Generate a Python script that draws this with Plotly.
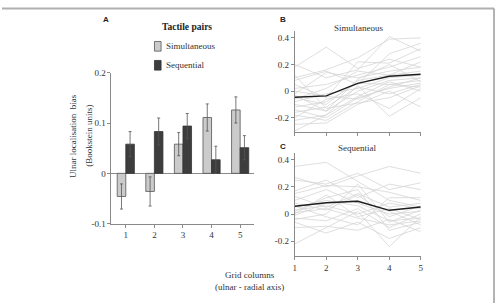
import plotly.graph_objects as go

W, H = 498, 308

# ---------------- data ----------------
columns = [1, 2, 3, 4, 5]
series_names = ["Simultaneous", "Sequential"]
sim_mean = [-0.046, -0.036, 0.058, 0.111, 0.126]
sim_err = [0.025, 0.029, 0.023, 0.027, 0.026]
seq_mean = [0.058, 0.083, 0.094, 0.027, 0.051]
seq_err = [0.025, 0.027, 0.025, 0.027, 0.024]

sim_subjects = [
    [0.20, 0.10, 0.16, 0.41, 0.30],
    [0.18, 0.33, 0.17, 0.24, 0.18],
    [0.10, 0.16, 0.25, 0.39, 0.40],
    [0.08, 0.15, 0.05, 0.28, 0.36],
    [0.05, -0.05, 0.22, 0.21, 0.32],
    [0.02, 0.05, 0.12, 0.18, 0.26],
    [-0.02, 0.14, 0.10, 0.15, 0.18],
    [-0.05, -0.10, 0.08, 0.12, 0.15],
    [-0.08, -0.02, 0.02, 0.10, 0.12],
    [-0.10, -0.15, 0.00, 0.08, 0.10],
    [-0.12, -0.08, 0.06, 0.05, 0.08],
    [-0.14, -0.20, -0.05, 0.02, 0.06],
    [-0.16, -0.12, 0.03, -0.02, 0.05],
    [-0.18, -0.22, -0.08, 0.05, 0.03],
    [-0.20, -0.06, -0.02, -0.13, 0.02],
    [-0.22, -0.18, 0.04, -0.19, -0.05],
    [-0.25, -0.24, -0.10, 0.00, -0.12],
    [-0.30, -0.18, -0.04, 0.07, 0.00],
    [0.00, -0.04, -0.06, 0.03, 0.10],
    [-0.06, 0.02, 0.15, 0.12, 0.22],
    [0.12, -0.13, -0.09, -0.05, 0.04],
    [-0.03, -0.15, 0.09, 0.20, 0.07],
]
seq_subjects = [
    [0.35, 0.38, 0.24, 0.10, 0.05],
    [0.27, 0.20, 0.28, 0.35, 0.30],
    [0.25, 0.22, 0.30, 0.18, 0.23],
    [0.17, 0.25, 0.12, 0.22, 0.18],
    [0.15, 0.21, 0.20, 0.16, 0.10],
    [0.13, 0.05, 0.15, 0.05, 0.08],
    [0.10, 0.18, 0.08, 0.00, 0.02],
    [0.08, 0.03, 0.14, -0.02, 0.06],
    [0.05, 0.10, 0.06, -0.05, -0.03],
    [0.03, 0.06, 0.00, 0.08, 0.04],
    [0.01, 0.04, -0.03, -0.08, -0.05],
    [-0.01, 0.08, 0.10, 0.02, -0.08],
    [-0.03, -0.05, 0.04, -0.10, 0.00],
    [-0.06, -0.14, -0.06, -0.18, -0.10],
    [-0.10, -0.09, -0.12, -0.04, -0.13],
    [-0.22, -0.10, 0.02, -0.24, -0.02],
    [0.02, 0.12, 0.18, -0.12, -0.06],
    [0.06, -0.02, -0.08, 0.12, 0.12],
    [-0.04, 0.00, 0.22, -0.06, 0.03],
    [0.00, 0.14, -0.02, 0.04, -0.04],
]
a_yticks = [-0.1, 0, 0.1, 0.2]
a_yticklabels = ["-0.1", "0", "0.1", "0.2"]
bc_yticks = [-0.2, 0, 0.2, 0.4]
bc_yticklabels = ["-0.2", "0", "0.2", "0.4"]

# ---------------- styling ----------------
SERIF = "Liberation Serif"
SANS = "Liberation Sans"
AX = "#8a8a8a"
TXT = "#333333"
SIM_FILL = "#cbcbcb"
SEQ_FILL = "#3d3d3d"


def px_x(px):
    return px / W


def px_y(py):
    return 1 - py / H


fig = go.Figure()

# Panel A bars
fig.add_trace(go.Bar(
    x=columns, y=sim_mean, name=series_names[0],
    marker=dict(color=SIM_FILL, line=dict(color="#555555", width=0.8)),
    error_y=dict(type="data", array=sim_err, color="#555555", thickness=0.8, width=1.5),
    xaxis="x", yaxis="y", showlegend=False,
))
fig.add_trace(go.Bar(
    x=columns, y=seq_mean, name=series_names[1],
    marker=dict(color=SEQ_FILL, line=dict(color="#333333", width=0.8)),
    error_y=dict(type="data", array=seq_err, color="#555555", thickness=0.8, width=1.5),
    xaxis="x", yaxis="y", showlegend=False,
))

# Panel B lines
for s in sim_subjects:
    fig.add_trace(go.Scatter(x=columns, y=s, mode="lines",
                             line=dict(color="#d6d6d6", width=0.8),
                             xaxis="x2", yaxis="y2", showlegend=False, hoverinfo="skip"))
fig.add_trace(go.Scatter(x=columns, y=sim_mean, mode="lines",
                         line=dict(color="#1e1e1e", width=1.5),
                         xaxis="x2", yaxis="y2", showlegend=False))

# Panel C lines
for s in seq_subjects:
    fig.add_trace(go.Scatter(x=columns, y=s, mode="lines",
                             line=dict(color="#d6d6d6", width=0.8),
                             xaxis="x3", yaxis="y3", showlegend=False, hoverinfo="skip"))
fig.add_trace(go.Scatter(x=columns, y=seq_mean, mode="lines",
                         line=dict(color="#1e1e1e", width=1.5),
                         xaxis="x3", yaxis="y3", showlegend=False))

tickfont = dict(family=SERIF, size=9, color=TXT)
common_axis = dict(showline=True, linecolor=AX, linewidth=1, showgrid=False,
                   ticks="outside", ticklen=3, tickcolor=AX, tickwidth=1,
                   tickfont=tickfont, fixedrange=True)

fig.update_layout(
    width=W, height=H,
    margin=dict(l=0, r=0, t=0, b=0),
    paper_bgcolor="white", plot_bgcolor="white",
    barmode="group", bargap=0.4, bargroupgap=0,
    xaxis=dict(domain=[px_x(110.6), px_x(255)], range=[0.5, 5.5],
               tickvals=columns, ticktext=[str(c) for c in columns],
               zeroline=False, anchor="y", **common_axis),
    yaxis=dict(domain=[px_y(226), px_y(70)], range=[-0.1, 0.2],
               tickvals=a_yticks, ticktext=a_yticklabels,
               zeroline=True, zerolinecolor=AX, zerolinewidth=1, anchor="x", **common_axis),
    xaxis2=dict(domain=[px_x(295.7), px_x(423)], range=[1, 5],
                tickvals=columns, showticklabels=False,
                zeroline=False, anchor="y2", **common_axis),
    yaxis2=dict(domain=[px_y(131.6), px_y(27.1)], range=[-0.31, 0.45],
                tickvals=bc_yticks, ticktext=bc_yticklabels,
                zeroline=False, anchor="x2", **common_axis),
    xaxis3=dict(domain=[px_x(295.7), px_x(423)], range=[1, 5],
                tickvals=columns, ticktext=[str(c) for c in columns],
                zeroline=False, anchor="y3", **common_axis),
    yaxis3=dict(domain=[px_y(259.6), px_y(152.8)], range=[-0.31, 0.45],
                tickvals=bc_yticks, ticktext=bc_yticklabels,
                zeroline=False, anchor="x3", **common_axis),
)

ann = []


def add_text(text, x, y, size=9, family=SERIF, bold=False, xanchor="center", angle=0, color=TXT):
    t = f"<b>{text}</b>" if bold else text
    ann.append(dict(text=t, x=px_x(x), y=px_y(y), xref="paper", yref="paper",
                    showarrow=False, xanchor=xanchor, yanchor="middle", textangle=angle,
                    font=dict(family=family, size=size, color=color)))


add_text("A", 105, 14.5, size=8, family=SANS, bold=True, color="#222222")
add_text("Tactile pairs", 187, 23, size=9.5, bold=True, color="#222222")
add_text(series_names[0], 164, 42.7, xanchor="left")
add_text(series_names[1], 164, 62.3, xanchor="left")
add_text("Ulnar localisation  bias", 71, 135, angle=-90)
add_text("(Bookstein units)", 87, 135, angle=-90)
add_text("Grid columns<br>(ulnar - radial axis)", 250, 285)
add_text("B", 283.5, 15, size=8, family=SANS, bold=True, color="#222222")
add_text(series_names[0], 360, 23.3)
add_text("C", 283.5, 146.7, size=8, family=SANS, bold=True, color="#222222")
add_text(series_names[1], 359, 147.5)

shapes = [
    # legend swatches
    dict(type="rect", xref="paper", yref="paper",
         x0=px_x(154), x1=px_x(160.7), y0=px_y(47.7), y1=px_y(37.7),
         fillcolor=SIM_FILL, line=dict(color="#555555", width=0.8)),
    dict(type="rect", xref="paper", yref="paper",
         x0=px_x(154), x1=px_x(160.7), y0=px_y(67.3), y1=px_y(57.3),
         fillcolor=SEQ_FILL, line=dict(color="#333333", width=0.8)),
    # figure frame (top and right)
    dict(type="line", xref="paper", yref="paper",
         x0=0, x1=px_x(497), y0=px_y(3.5), y1=px_y(3.5),
         line=dict(color="#b0b0b0", width=2)),
    dict(type="line", xref="paper", yref="paper",
         x0=px_x(497), x1=px_x(497), y0=px_y(3.5), y1=0,
         line=dict(color="#9a9a9a", width=1.5)),
]

fig.update_layout(annotations=ann, shapes=shapes)

fig.write_html("out.html")
